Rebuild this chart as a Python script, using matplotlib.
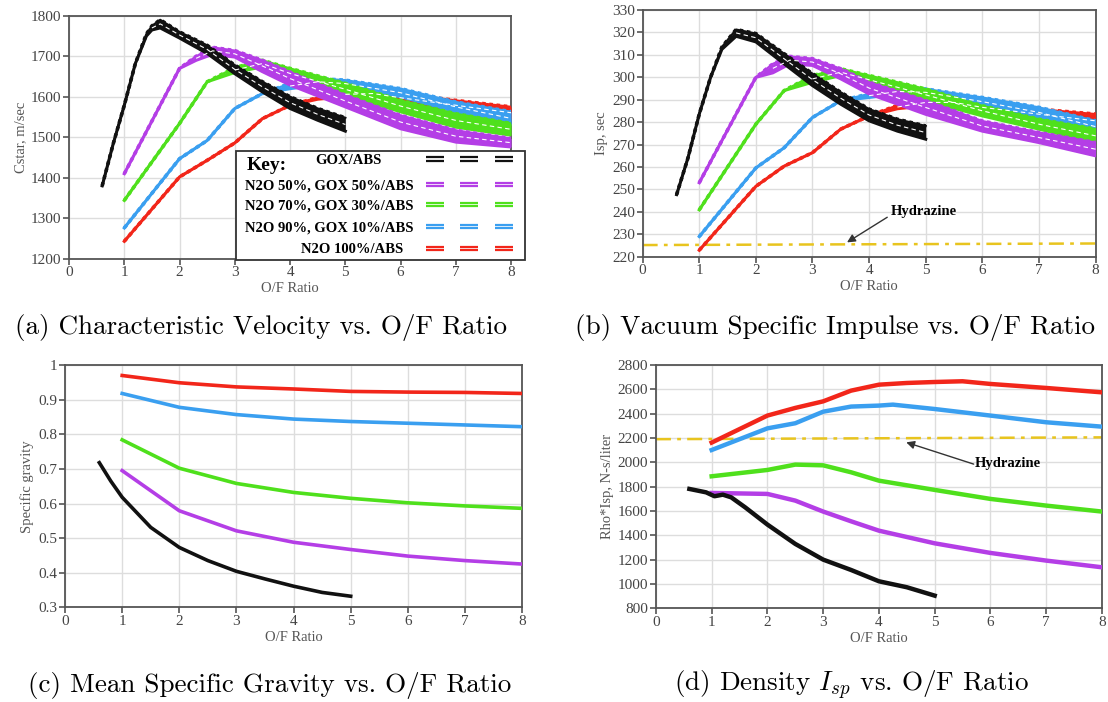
import numpy as np
import matplotlib
matplotlib.use('Agg')
import matplotlib.pyplot as plt
from matplotlib.patches import Rectangle

plt.rcParams['font.family'] = ['Liberation Serif', 'DejaVu Serif']
plt.rcParams['mathtext.fontset'] = 'cm'

# colours of the propellant combinations
c_gox, c_n50, c_n70, c_n90, c_n100 = '#111111', '#b43ee6', '#4fe01c', '#3a9ff0', '#f2261a'
c_hyd = '#e8c41e'

# ---- (a) characteristic velocity, m/sec (upper / lower edge of each band)
of_gox_a = [0.6, 0.8, 1.0, 1.2, 1.4, 1.5, 1.65, 2.0, 2.5, 3.0, 3.5, 4.0, 4.5, 5.0]
cstar_gox_hi = [1380, 1484, 1579, 1682, 1755, 1775, 1790, 1760, 1727, 1678, 1637, 1600, 1571, 1548]
cstar_gox_lo = [1380, 1484, 1579, 1682, 1750, 1765, 1770, 1745, 1707, 1657, 1612, 1571, 1542, 1515]
of_n50_a = [1.0, 2.0, 2.3, 2.6, 3.0, 3.5, 4.0, 5.0, 6.0, 7.0, 8.0]
cstar_n50_hi = [1410, 1670, 1700, 1722, 1714, 1690, 1661, 1604, 1554, 1517, 1497]
cstar_n50_lo = [1410, 1670, 1690, 1705, 1698, 1662, 1629, 1575, 1521, 1488, 1476]
of_n70_a = [1.0, 2.0, 2.5, 3.0, 3.5, 4.0, 5.0, 6.0, 7.0, 8.0]
cstar_n70_hi = [1344, 1534, 1637, 1672, 1690, 1670, 1633, 1591, 1558, 1534]
cstar_n70_lo = [1344, 1534, 1637, 1660, 1674, 1645, 1604, 1563, 1525, 1505]
of_n90_a = [1.0, 2.0, 2.5, 3.0, 3.5, 4.0, 4.5, 5.0, 6.0, 7.0, 8.0]
cstar_n90_hi = [1276, 1447, 1492, 1571, 1608, 1633, 1645, 1641, 1620, 1587, 1563]
cstar_n90_lo = [1276, 1447, 1492, 1571, 1608, 1620, 1629, 1624, 1600, 1563, 1530]
of_n100_a = [1.0, 2.0, 2.5, 3.0, 3.5, 4.0, 4.5, 5.0, 5.5, 6.0, 7.0, 8.0]
cstar_n100_hi = [1243, 1402, 1443, 1486, 1546, 1579, 1598, 1612, 1616, 1608, 1591, 1575]
cstar_n100_lo = [1243, 1402, 1443, 1486, 1546, 1579, 1594, 1600, 1600, 1587, 1567, 1546]

# ---- (b) vacuum specific impulse, sec
of_gox_b = [0.6, 0.8, 1.0, 1.2, 1.4, 1.65, 2.0, 2.5, 3.0, 3.5, 4.0, 4.5, 5.0]
isp_gox_hi = [247.7, 264, 283.6, 300, 313.5, 321.3, 319.5, 310.5, 301.6, 293.3, 285.8, 281.3, 278.3]
isp_gox_lo = [247.7, 264, 283.6, 300, 312.5, 318.3, 315.8, 306.0, 296.3, 288.0, 280.6, 276.0, 272.4]
of_n50_b = [1.0, 2.0, 2.3, 2.6, 3.0, 3.5, 4.0, 5.0, 6.0, 7.0, 8.0]
isp_n50_hi = [253, 300, 306, 309.3, 308.3, 303.8, 297.8, 289.6, 280.5, 275.4, 270.9]
isp_n50_lo = [253, 300, 302, 306.0, 305.3, 299.3, 292.6, 283.5, 276.0, 270.9, 265.0]
of_n70_b = [1.0, 2.0, 2.5, 3.0, 3.5, 4.0, 5.0, 6.0, 7.0, 8.0]
isp_n70_hi = [240.9, 279.1, 294.1, 300.8, 303.8, 300.8, 294.8, 287.3, 281.3, 276.9]
isp_n70_lo = [240.9, 279.1, 294.1, 297.8, 300.8, 297.0, 289.6, 282.8, 276.9, 270.9]
of_n90_b = [1.0, 2.0, 2.5, 3.0, 3.5, 4.0, 4.5, 5.0, 6.0, 7.0, 8.0]
isp_n90_hi = [229, 259.6, 268.6, 282.1, 289.6, 292.6, 294.8, 294.8, 291.0, 286.6, 280.6]
isp_n90_lo = [229, 259.6, 268.6, 282.1, 289.6, 291.0, 292.6, 291.8, 287.3, 282.1, 275.4]
of_n100_b = [1.0, 2.0, 2.5, 3.0, 3.5, 4.0, 4.5, 5.0, 5.5, 6.0, 7.0, 8.0]
isp_n100_hi = [222.9, 251.4, 260.4, 266.4, 276.9, 282.8, 287.5, 290.3, 290.3, 288.1, 285.8, 283.6]
isp_n100_lo = [222.9, 251.4, 260.4, 266.4, 276.9, 282.8, 286.0, 287.3, 287.3, 285.1, 281.3, 277.6]
hyd_of = [0, 8]
hyd_isp = [225.2, 225.9]

# ---- (c) mean specific gravity
of_gox_c = [0.6, 0.8, 1.0, 1.5, 2.0, 2.5, 3.0, 3.5, 4.0, 4.5, 5.0]
sg_gox = [0.718, 0.665, 0.618, 0.531, 0.473, 0.435, 0.404, 0.382, 0.361, 0.343, 0.332]
of_mix = [1, 2, 3, 4, 5, 6, 7, 8]
sg_n50 = [0.695, 0.579, 0.521, 0.488, 0.467, 0.448, 0.435, 0.425]
sg_n70 = [0.784, 0.702, 0.658, 0.632, 0.615, 0.602, 0.593, 0.586]
sg_n90 = [0.918, 0.878, 0.857, 0.844, 0.837, 0.832, 0.827, 0.822]
sg_n100 = [0.970, 0.949, 0.937, 0.931, 0.924, 0.922, 0.921, 0.918]

# ---- (d) density Isp, N-s/liter
of_gox_d = [0.6, 0.9, 1.05, 1.2, 1.35, 1.6, 2.0, 2.5, 3.0, 3.5, 4.0, 4.5, 5.0]
rho_gox = [1781, 1753, 1721, 1734, 1712, 1630, 1488, 1329, 1200, 1115, 1022, 973, 904]
of_n50_d = [1, 2, 2.5, 3, 3.5, 4, 5, 6, 7, 8]
rho_n50 = [1748, 1740, 1685, 1595, 1515, 1438, 1334, 1255, 1192, 1137]
of_n70_d = [1, 2, 2.5, 3, 3.5, 4, 5, 6, 7, 8]
rho_n70 = [1885, 1937, 1981, 1975, 1918, 1849, 1773, 1699, 1644, 1595]
of_n90_d = [1, 2, 2.5, 3, 3.5, 4, 4.25, 5, 6, 7, 8]
rho_n90 = [2101, 2279, 2321, 2416, 2458, 2466, 2474, 2438, 2384, 2329, 2293]
of_n100_d = [1, 2, 2.5, 3, 3.5, 4, 4.5, 5, 5.5, 6, 7, 8]
rho_n100 = [2162, 2384, 2447, 2501, 2589, 2638, 2652, 2660, 2666, 2644, 2611, 2575]
hyd_rho = [2190, 2205]

key_labels = ['GOX/ABS', 'N2O 50%, GOX 50%/ABS', 'N2O 70%, GOX 30%/ABS',
              'N2O 90%, GOX 10%/ABS', 'N2O 100%/ABS']
captions = ['(a) Characteristic Velocity vs. O/F Ratio',
            '(b) Vacuum Specific Impulse vs. O/F Ratio',
            '(c) Mean Specific Gravity vs. O/F Ratio',
            r'(d) Density $I_{sp}$ vs. O/F Ratio']


def style(ax, yticks, ylabel, fmt):
    ax.set_xlim(0, 8)
    ax.set_xticks(range(9))
    ax.set_ylim(yticks[0], yticks[-1])
    ax.set_yticks(yticks)
    ax.set_yticklabels([fmt(v) for v in yticks])
    ax.grid(color='#dddddd', lw=1)
    ax.set_axisbelow(True)
    for s in ax.spines.values():
        s.set_color('#555555')
        s.set_linewidth(1.3)
    ax.tick_params(direction='out', length=4, width=1.2, color='#555555',
                   labelsize=11, labelcolor='#444444', pad=1.5)
    ax.set_xlabel('O/F Ratio', fontsize=10.5, color='#555555', labelpad=2)
    ax.set_ylabel(ylabel, fontsize=10.5, color='#555555', labelpad=3)


def band(ax, x, lo, hi, c):
    x = np.array(x, float)
    lo = np.array(lo, float)
    hi = np.array(hi, float)
    ax.fill_between(x, lo, hi, color=c, lw=0, zorder=3)
    ax.plot(x, lo, color=c, lw=2.2, zorder=3)
    ax.plot(x, hi, color=c, lw=2.6, ls=(0, (1, 1)), zorder=3)
    ax.plot(x, hi, color=c, lw=1.6, zorder=3)
    wide = (hi - lo) > 0.012 * (ax.get_ylim()[1] - ax.get_ylim()[0])
    mid = np.where(wide, (lo + hi) / 2, np.nan)
    ax.plot(x, mid, color='white', lw=0.8, ls=(0, (4, 3)), zorder=4)


def hydrazine_note(ax, text_xy, tail, head):
    ax.text(*text_xy, 'Hydrazine', fontsize=10.5, fontweight='bold', ha='center', va='center')
    ax.annotate('', xy=head, xytext=tail,
                arrowprops=dict(arrowstyle='-|>', color='#333333', lw=1, shrinkA=0,
                                shrinkB=0, mutation_scale=12))


fig = plt.figure(figsize=(11.08, 7.02), dpi=100)
ax_a = fig.add_axes([0.0623, 0.6315, 0.399, 0.346])
ax_b = fig.add_axes([0.580, 0.6343, 0.4088, 0.3514])
ax_c = fig.add_axes([0.0587, 0.1349, 0.4125, 0.345])
ax_d = fig.add_axes([0.592, 0.1335, 0.4025, 0.3466])

style(ax_a, list(range(1200, 1801, 100)), 'Cstar, m/sec', lambda v: f'{v}')
style(ax_b, list(range(220, 331, 10)), 'Isp, sec', lambda v: f'{v}')
style(ax_c, [0.3, 0.4, 0.5, 0.6, 0.7, 0.8, 0.9, 1.0], 'Specific gravity',
      lambda v: '1' if v == 1 else f'{v:.1f}')
style(ax_d, list(range(800, 2801, 200)), 'Rho*Isp, N-s/liter', lambda v: f'{v}')

# (a)
band(ax_a, of_n100_a, cstar_n100_lo, cstar_n100_hi, c_n100)
band(ax_a, of_n90_a, cstar_n90_lo, cstar_n90_hi, c_n90)
band(ax_a, of_n70_a, cstar_n70_lo, cstar_n70_hi, c_n70)
band(ax_a, of_n50_a, cstar_n50_lo, cstar_n50_hi, c_n50)
band(ax_a, of_gox_a, cstar_gox_lo, cstar_gox_hi, c_gox)

# key box of (a)
ax_a.add_patch(Rectangle((3.03, 1196), 5.23, 270, facecolor='white', edgecolor='#333333',
                         lw=1.3, zorder=10, clip_on=False))
ax_a.text(3.22, 1431, 'Key:', fontsize=14, fontweight='bold', va='center', ha='left', zorder=11)
key_cols = [c_gox, c_n50, c_n70, c_n90, c_n100]
key_y = [1446, 1384, 1333, 1280, 1226]
key_right = [5.66, 6.24, 6.24, 6.24, 6.04]
for lab, c, yk, xr in zip(key_labels, key_cols, key_y, key_right):
    ax_a.text(xr, yk - 4, lab, fontsize=10.5, fontweight='bold', ha='right', va='center', zorder=11)
    for xc in [6.62, 7.24, 7.87]:
        for dy in [-4, 4]:
            ax_a.plot([xc - 0.16, xc + 0.16], [yk + dy, yk + dy], color=c, lw=1.6,
                      zorder=11, clip_on=False, solid_capstyle='butt')

# (b)
ax_b.plot(hyd_of, hyd_isp, color=c_hyd, lw=1.8, ls=(0, (6, 2.5, 1.5, 2.5)), zorder=2)
band(ax_b, of_n100_b, isp_n100_lo, isp_n100_hi, c_n100)
band(ax_b, of_n90_b, isp_n90_lo, isp_n90_hi, c_n90)
band(ax_b, of_n70_b, isp_n70_lo, isp_n70_hi, c_n70)
band(ax_b, of_n50_b, isp_n50_lo, isp_n50_hi, c_n50)
band(ax_b, of_gox_b, isp_gox_lo, isp_gox_hi, c_gox)
hydrazine_note(ax_b, (4.97, 240.2), (4.32, 237.6), (3.61, 226.4))

# (c)
for x, y, c in [(of_mix, sg_n100, c_n100), (of_mix, sg_n90, c_n90), (of_mix, sg_n70, c_n70),
                (of_mix, sg_n50, c_n50), (of_gox_c, sg_gox, c_gox)]:
    ax_c.plot(x, y, color=c, lw=2.6, zorder=3)

# (d)
ax_d.plot(hyd_of, hyd_rho, color=c_hyd, lw=1.8, ls=(0, (6, 2.5, 1.5, 2.5)), zorder=2)
for x, y, c in [(of_n100_d, rho_n100, c_n100), (of_n90_d, rho_n90, c_n90),
                (of_n70_d, rho_n70, c_n70), (of_n50_d, rho_n50, c_n50),
                (of_gox_d, rho_gox, c_gox)]:
    ax_d.plot(x, y, color=c, lw=3.2, zorder=3)
hydrazine_note(ax_d, (6.31, 1986), (5.7, 1985), (4.49, 2164))

# captions
for (xc, yc), cap in zip([(0.2356, 0.534), (0.7536, 0.534), (0.2437, 0.0242), (0.768, 0.0242)],
                         captions):
    fig.text(xc, yc, cap, fontsize=19.5, fontfamily='cmr10', ha='center', va='center')

fig.savefig('out.png', dpi=100)
